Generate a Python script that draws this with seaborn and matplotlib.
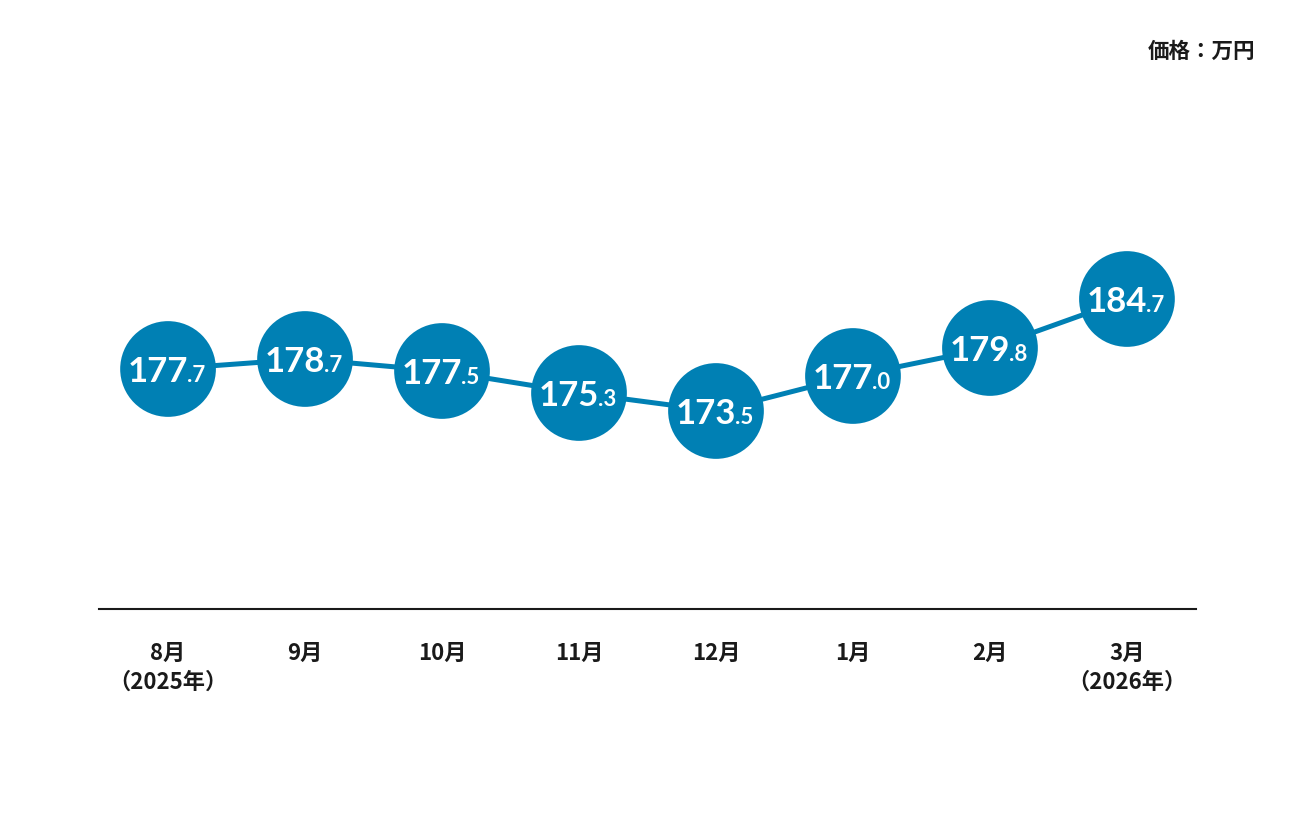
import matplotlib
matplotlib.use("Agg")
import matplotlib.pyplot as plt
import seaborn as sns
import pandas as pd

months = ["8月\n（2025年）", "9月", "10月", "11月", "12月", "1月", "2月", "3月\n（2026年）"]
prices = [177.7, 178.7, 177.5, 175.3, 173.5, 177.0, 179.8, 184.7]
unit_label = "価格：万円"

df = pd.DataFrame({"pos": range(len(months)), "price": prices})

sns.set_theme(style="white")
plt.rcParams["font.family"] = ["Noto Sans CJK JP", "DejaVu Sans"]

blue = "#0080b4"
dark = "#1a1a1a"

fig = plt.figure(figsize=(12.96, 8.16), dpi=100)
ax = fig.add_axes([99 / 1296, 1 - 609 / 816, (1196 - 99) / 1296, (609 - 100) / 816])

sns.lineplot(data=df, x="pos", y="price", ax=ax, color=blue, linewidth=3.6, zorder=2)
sns.scatterplot(data=df, x="pos", y="price", ax=ax, color=blue, s=4750,
                edgecolor="none", zorder=3, legend=False)

# big integer part + small decimal part inside each circle
for x, v in zip(df["pos"], df["price"]):
    whole, dec = f"{v:.1f}".split(".")
    ax.annotate(whole, (x, v), xytext=(14.5, -9.5), textcoords="offset points",
                ha="right", va="baseline", color="white", fontsize=25,
                fontweight="bold", family="Lato", zorder=4)
    ax.annotate("." + dec, (x, v), xytext=(14.0, -9.5), textcoords="offset points",
                ha="left", va="baseline", color="white", fontsize=16,
                fontweight="bold", family="Lato", zorder=4)

ax.set_xlim(-0.504, 7.504)
ax.set_ylim(153.7, 204.6)
ax.set_xticks(range(len(months)))
ax.set_xticklabels(months, fontsize=16, fontweight="bold", color=dark, linespacing=1.32)
ax.tick_params(axis="x", length=0, pad=24)
ax.set_yticks([])
ax.set_xlabel("")
ax.set_ylabel("")
sns.despine(ax=ax, left=True, top=True, right=True)
ax.spines["bottom"].set_color(dark)
ax.spines["bottom"].set_linewidth(1.5)

fig.text(1255 / 1296, 1 - 51 / 816, unit_label, ha="right", va="center",
         fontsize=15.5, fontweight="bold", color=dark)

fig.savefig("out.png", dpi=100)
